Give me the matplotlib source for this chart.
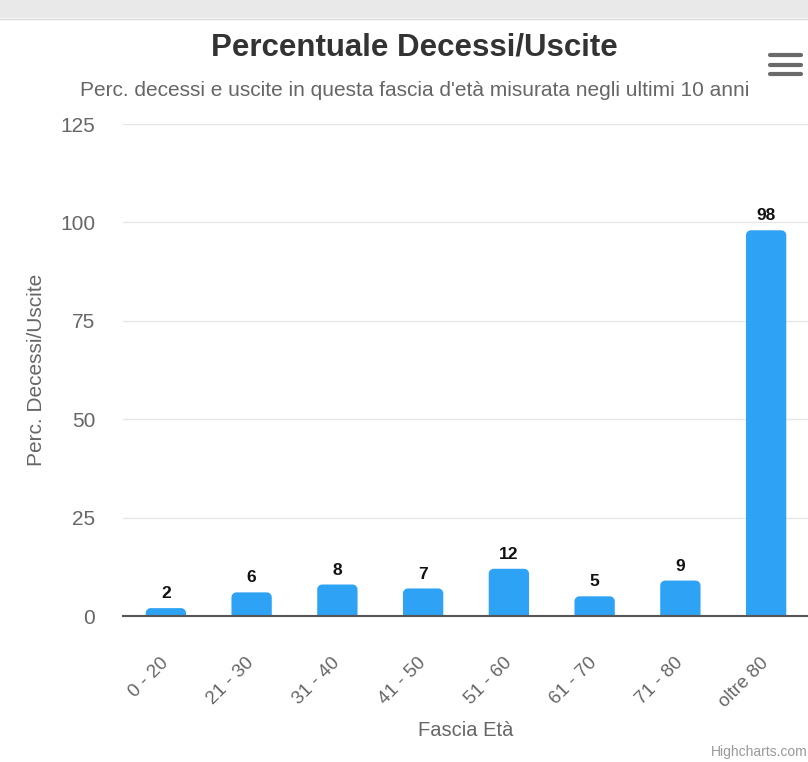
import numpy as np
import matplotlib.pyplot as plt
from matplotlib.patches import Rectangle, Polygon

# Dati
fasce = ['0 - 20', '21 - 30', '31 - 40', '41 - 50', '51 - 60', '61 - 70', '71 - 80', 'oltre 80']
percentuali = [2, 6, 8, 7, 12, 5, 9, 98]
y_ticks = [0, 25, 50, 75, 100, 125]

plt.rcParams['font.family'] = ['Liberation Sans', 'DejaVu Sans']
colore = '#2ea2f4'

fig = plt.figure(figsize=(8.08, 7.62), dpi=100)
fig.patch.set_facecolor('white')

# striscia grigia in alto
fig.patches.append(Rectangle((0, 1 - 18 / 762), 1, 18 / 762, transform=fig.transFigure,
                             facecolor='#e9e9e9', edgecolor='none', zorder=0))
fig.lines.append(plt.Line2D([0, 1], [1 - 19 / 762] * 2, transform=fig.transFigure,
                            color='#d8d8d8', lw=1))

ax = fig.add_axes([123 / 808, 146 / 762, 686 / 808, 492 / 762])
x = np.arange(len(fasce))
ax.set_xlim(-0.5, len(fasce) - 0.5)
ax.set_ylim(0, 125)
bars = ax.bar(x, percentuali, width=0.47, color=colore, zorder=3)

# angoli superiori arrotondati (raggio ~5 px)
px_x = (len(fasce)) / 686
px_y = 125 / 492
t = np.linspace(0, np.pi / 2, 10)
for b in bars:
    b.set_visible(False)
    bx, bw, bh = b.get_x(), b.get_width(), b.get_height()
    rx = 5 * px_x
    ry = min(5 * px_y, bh)
    left = np.column_stack([bx + rx - rx * np.cos(t), bh - ry + ry * np.sin(t)])
    right = np.column_stack([bx + bw - rx + rx * np.sin(t), bh - ry + ry * np.cos(t)])
    verts = np.vstack([[[bx, 0]], left, right, [[bx + bw, 0]]])
    ax.add_patch(Polygon(verts, closed=True, facecolor=colore, edgecolor='none', zorder=3))

for xi, v in zip(x, percentuali):
    ax.annotate(str(v), (xi, v), xytext=(0, 5), textcoords='offset points',
                ha='center', va='bottom', fontsize=12.5, fontweight='bold', color='#111111')

ax.set_yticks(y_ticks)
ax.set_yticklabels([str(t) for t in y_ticks], fontsize=15, color='#666666')
ax.set_xticks(x)
ax.set_xticklabels(fasce, rotation=45, ha='right', va='center', rotation_mode='anchor',
                   fontsize=13.5, color='#666666')
ax.tick_params(axis='both', length=0)
ax.tick_params(axis='y', pad=20)
ax.tick_params(axis='x', pad=32)
ax.grid(axis='y', color='#e6e6e6', lw=1, zorder=0)
for s in ['top', 'right', 'left']:
    ax.spines[s].set_visible(False)
ax.spines['bottom'].set_color('#555555')
ax.spines['bottom'].set_linewidth(1.5)
ax.spines['bottom'].set_zorder(4)
ax.set_facecolor('white')

ax.set_ylabel('Perc. Decessi/Uscite', fontsize=15, color='#666666')
ax.yaxis.set_label_coords(-0.112, 0.5)
ax.set_xlabel('Fascia Età', fontsize=14.5, color='#666666')
ax.xaxis.set_label_coords(0.5, -0.213)

fig.text(414 / 808, 1 - 48 / 762, 'Percentuale Decessi/Uscite', ha='center', va='center',
         fontsize=22.5, fontweight='bold', color='#333333')
fig.text(415 / 808, 1 - 91 / 762,
         "Perc. decessi e uscite in questa fascia d'età misurata negli ultimi 10 anni",
         ha='center', va='center', fontsize=15, color='#666666')
fig.text(1.0, 1 - 752 / 762, 'Highcharts.com', ha='right', va='center',
         fontsize=10, color='#999999')

# icona menu
for dy in [55, 64.5, 74]:
    fig.lines.append(plt.Line2D([770 / 808, 801 / 808], [1 - dy / 762] * 2,
                                transform=fig.transFigure, color='#6a6a6a', lw=3,
                                solid_capstyle='round'))

fig.savefig('out.png', dpi=100)
